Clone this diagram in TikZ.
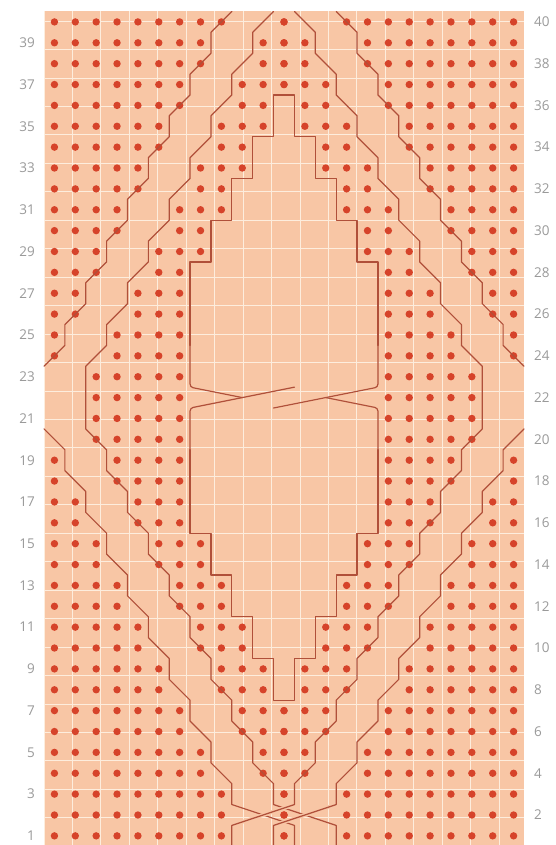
\documentclass[tikz,border=0pt]{standalone}
\usepackage{fontspec}
\setmainfont{Open Sans}
\definecolor{cellbg}{HTML}{F8C6A5}
\definecolor{gridc}{HTML}{FDEDDD}
\definecolor{dotc}{HTML}{D6432A}
\definecolor{cablec}{HTML}{B0503A}
\definecolor{labelc}{HTML}{9A9A9A}
\tikzset{
  cable/.style={draw=cablec, line width=1.2pt, line join=round, line cap=round},
  rowlabel/.style={text=labelc, font=\fontsize{13.5}{14}\selectfont, inner sep=0pt},
  purldot/.style={fill=dotc},
}
\begin{document}
\begin{tikzpicture}[x=1pt,y=1pt]
\useasboundingbox (0,0) rectangle (556,845);
\fill[white] (0,0) rectangle (556,845);
\begin{scope}[shift={(44pt,-1.3pt)}, x=20.87pt, y=20.87pt]
  \fill[cellbg] (0,0) rectangle (23,40);
  \draw[gridc, line width=1pt] (0,0) grid (23,40);
  % purl dots (left half listed, mirrored)
  \foreach \r/\cols in {
    40/{1,2,3,4,5,6,7,8,9,12},
    39/{1,2,3,4,5,6,7,8,11,12},
    38/{1,2,3,4,5,6,7,8,11,12},
    37/{1,2,3,4,5,6,7,10,11,12},
    36/{1,2,3,4,5,6,7,10,11},
    35/{1,2,3,4,5,6,9,10,11},
    34/{1,2,3,4,5,6,9,10},
    33/{1,2,3,4,5,8,9,10},
    32/{1,2,3,4,5,8,9},
    31/{1,2,3,4,7,8,9},
    30/{1,2,3,4,7,8},
    29/{1,2,3,6,7,8},
    28/{1,2,3,6,7},
    27/{1,2,5,6,7},
    26/{1,2,5,6,7},
    25/{1,4,5,6,7},
    24/{1,4,5,6,7},
    23/{3,4,5,6,7},
    22/{3,4,5,6,7},
    21/{3,4,5,6,7},
    20/{3,4,5,6,7},
    19/{1,4,5,6,7},
    18/{1,4,5,6,7},
    17/{1,2,5,6,7},
    16/{1,2,5,6,7},
    15/{1,2,3,6,7,8},
    14/{1,2,3,6,7,8},
    13/{1,2,3,4,7,8,9},
    12/{1,2,3,4,7,8,9},
    11/{1,2,3,4,5,8,9,10},
    10/{1,2,3,4,5,8,9,10},
    9/{1,2,3,4,5,6,9,10,11},
    8/{1,2,3,4,5,6,9,10,11},
    7/{1,2,3,4,5,6,7,10,11,12},
    6/{1,2,3,4,5,6,7,10,11,12},
    5/{1,2,3,4,5,6,7,8,11,12},
    4/{1,2,3,4,5,6,7,8,11,12},
    3/{1,2,3,4,5,6,7,8,9,12},
    2/{1,2,3,4,5,6,7,8,9,12},
    1/{1,2,3,4,5,6,7,8,9,12}}{
    \foreach \c in \cols {
      \fill[purldot] (\c-0.5,\r-0.5) circle (3.7pt);
      \fill[purldot] (23.5-\c,\r-0.5) circle (3.7pt);
    }
  }
  % under band lines (left band)
  \draw[cable] (12,0) -- (12,1) -- (9,2) -- (9,3) -- (8,4) -- (8,5) -- (7,6) -- (7,7) -- (6,8) -- (6,9) -- (5,10) -- (5,11) -- (4,12) -- (4,13) -- (3,14) -- (3,15) -- (2,16) -- (2,17) -- (1,18) -- (1,19) -- (0,20);
  \draw[cable] (14,0) -- (14,1) -- (11,2) -- (11,3) -- (10,4) -- (10,5) -- (9,6) -- (9,7) -- (8,8) -- (8,9) -- (7,10) -- (7,11) -- (6,12) -- (6,13) -- (5,14) -- (5,15) -- (4,16) -- (4,17) -- (3,18) -- (3,19) -- (2,20) -- (2,23) -- (3,24) -- (3,25) -- (4,26) -- (4,27) -- (5,28) -- (5,29) -- (6,30) -- (6,31) -- (7,32) -- (7,33) -- (8,34) -- (8,35) -- (9,36) -- (9,37) -- (10,38) -- (10,39) -- (11,40);
  % casing for the crossing (over band)
  \draw[cellbg, line width=3.8pt, shorten <=3pt, shorten >=3pt] (9,1) -- (12,2);
  \draw[cellbg, line width=3.8pt, shorten <=3pt, shorten >=3pt] (11,1) -- (14,2);
  % over band lines (right band)
  \draw[cable] (9,0) -- (9,1) -- (12,2) -- (12,3) -- (13,4) -- (13,5) -- (14,6) -- (14,7) -- (15,8) -- (15,9) -- (16,10) -- (16,11) -- (17,12) -- (17,13) -- (18,14) -- (18,15) -- (19,16) -- (19,17) -- (20,18) -- (20,19) -- (21,20) -- (21,23) -- (20,24) -- (20,25) -- (19,26) -- (19,27) -- (18,28) -- (18,29) -- (17,30) -- (17,31) -- (16,32) -- (16,33) -- (15,34) -- (15,35) -- (14,36) -- (14,37) -- (13,38) -- (13,39) -- (12,40);
  \draw[cable] (11,0) -- (11,1) -- (14,2) -- (14,3) -- (15,4) -- (15,5) -- (16,6) -- (16,7) -- (17,8) -- (17,9) -- (18,10) -- (18,11) -- (19,12) -- (19,13) -- (20,14) -- (20,15) -- (21,16) -- (21,17) -- (22,18) -- (22,19) -- (23,20);
  % upper outer lines
  \draw[cable] (0,23) -- (1,24) -- (1,25) -- (2,26) -- (2,27) -- (3,28) -- (3,29) -- (4,30) -- (4,31) -- (5,32) -- (5,33) -- (6,34) -- (6,35) -- (7,36) -- (7,37) -- (8,38) -- (8,39) -- (9,40);
  \draw[cable] (23,23) -- (22,24) -- (22,25) -- (21,26) -- (21,27) -- (20,28) -- (20,29) -- (19,30) -- (19,31) -- (18,32) -- (18,33) -- (17,34) -- (17,35) -- (16,36) -- (16,37) -- (15,38) -- (15,39) -- (14,40);
  % centre diamond, lower part
  \draw[cable, rounded corners=3pt] (12,22) -- (7,21) -- (7,19);
  \draw[cable] (7,19) -- (7,15) -- (8,15) -- (8,13) -- (9,13) -- (9,11) -- (10,11) -- (10,9) -- (11,9) -- (11,7) -- (12,7) -- (12,9) -- (13,9) -- (13,11) -- (14,11) -- (14,13) -- (15,13) -- (15,15) -- (16,15) -- (16,19);
  \draw[cable, rounded corners=3pt] (16,19) -- (16,21) -- (13.5,21.5);
  % centre diamond, upper part
  \draw[cable, rounded corners=3pt] (9.5,21.5) -- (7,22) -- (7,24);
  \draw[cable] (7,24) -- (7,28) -- (8,28) -- (8,30) -- (9,30) -- (9,32) -- (10,32) -- (10,34) -- (11,34) -- (11,36) -- (12,36) -- (12,34) -- (13,34) -- (13,32) -- (14,32) -- (14,30) -- (15,30) -- (15,28) -- (16,28) -- (16,24);
  \draw[cable, rounded corners=3pt] (16,24) -- (16,22) -- (11,21);
  % row numbers
  \foreach \r in {1,3,...,39} {
    \node[rowlabel, anchor=east] (lab\r) at (-0.43,\r-0.5) {\r};
  }
  \foreach \r in {2,4,...,40} {
    \node[rowlabel, anchor=west] (lab\r) at (23.48,\r-0.5) {\r};
  }
\end{scope}
\end{tikzpicture}
\end{document}
